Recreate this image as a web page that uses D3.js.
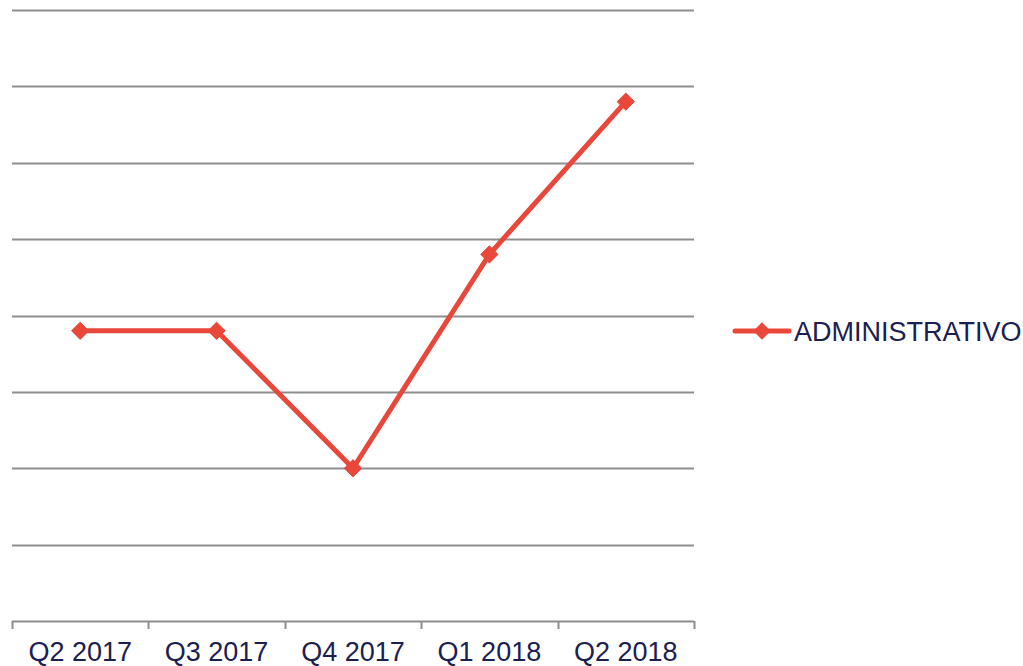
<!DOCTYPE html>
<html>
<head>
<meta charset="utf-8">
<script src="https://d3js.org/d3.v7.min.js"></script>
<style>
 body { margin: 0; background: #fff; }
 text { font-family: "Liberation Sans", Arial, sans-serif; fill: #1b2050; }
</style>
</head>
<body>
<script>
 // Chart data
 var categories = ["Q2 2017", "Q3 2017", "Q4 2017", "Q1 2018", "Q2 2018"];
 var seriesName = "ADMINISTRATIVO";
 var values = [3.8, 3.8, 2.0, 4.8, 6.8];
 var gridTicks = [0, 1, 2, 3, 4, 5, 6, 7, 8];

 var lineColor = "#e8473a";

 var svg = d3.select("body")
     .append("svg")
     .attr("width", 1023)
     .attr("height", 666);

 //Scales
 var x = d3.scaleBand()
     .domain(categories)
     .range([12, 694]);

 var y = d3.scaleLinear()
     .domain([0, 8])
     .range([621, 10]);

 //Gridlines
 svg.append("g")
     .selectAll("line")
     .data(gridTicks.slice(1))
     .enter()
     .append("line")
     .attr("x1", 12)
     .attr("x2", 694)
     .attr("y1", function(d) { return Math.round(y(d)) + 0.5; })
     .attr("y2", function(d) { return Math.round(y(d)) + 0.5; })
     .attr("stroke", "#8e8e8e")
     .attr("stroke-width", 2);

 //X axis
 var xAxis = d3.axisBottom(x).tickSize(0).tickPadding(21);
 var gx = svg.append("g")
     .attr("transform", "translate(0," + 621 + ")")
     .call(xAxis);
 gx.select(".domain").remove();
 gx.selectAll("text")
     .style("font-size", "27px")
     .style("font-family", "'Liberation Sans', Arial, sans-serif")
     .attr("fill", "#1b2050");

 gx.append("line")
     .attr("x1", 12).attr("x2", 694)
     .attr("y1", 0.5).attr("y2", 0.5)
     .attr("stroke", "#8e8e8e")
     .attr("stroke-width", 2);

 var edges = categories.map(function(c) { return x(c); }).concat([x.range()[1]]);
 gx.selectAll(".edge")
     .data(edges)
     .enter()
     .append("line")
     .attr("class", "edge")
     .attr("x1", function(d) { return Math.round(d) + 0.5; })
     .attr("x2", function(d) { return Math.round(d) + 0.5; })
     .attr("y1", 0)
     .attr("y2", 8)
     .attr("stroke", "#8e8e8e")
     .attr("stroke-width", 2);

 //Line
 var line = d3.line()
     .x(function(d, i) { return x(categories[i]) + x.bandwidth() / 2; })
     .y(function(d) { return y(d); });

 svg.append("path")
     .datum(values)
     .attr("d", line)
     .attr("fill", "none")
     .attr("stroke", lineColor)
     .attr("stroke-width", 5)
     .attr("stroke-linejoin", "round");

 var diamond = d3.symbol().type(d3.symbolDiamond2).size(190);

 svg.append("g")
     .selectAll("path")
     .data(values)
     .enter()
     .append("path")
     .attr("d", diamond)
     .attr("transform", function(d, i) {
         return "translate(" + (x(categories[i]) + x.bandwidth() / 2) + "," + y(d) + ")";
     })
     .attr("fill", lineColor)
     .attr("stroke", lineColor)
     .attr("stroke-width", 1)
     .attr("stroke-linejoin", "round");

 //Legend
 var legend = svg.append("g")
     .attr("transform", "translate(735,331)");
 legend.append("line")
     .attr("x1", 0).attr("x2", 54)
     .attr("y1", 0).attr("y2", 0)
     .attr("stroke", lineColor)
     .attr("stroke-width", 5)
     .attr("stroke-linecap", "round");
 legend.append("path")
     .attr("d", diamond)
     .attr("transform", "translate(27,0)")
     .attr("fill", lineColor);
 legend.append("text")
     .attr("x", 59)
     .attr("y", 10)
     .style("font-size", "27px")
     .text(seriesName);
</script>
</body>
</html>
